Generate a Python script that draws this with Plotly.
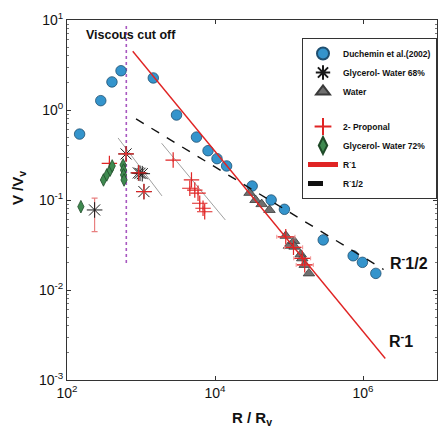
import numpy as np
import plotly.graph_objects as go

# ---- measured data (R/Rv, V/Vv) ----
duchemin_x = [148, 286, 405, 537, 1466, 3020, 5620, 8050, 10640, 14350, 31800, 57400, 86700,
              290000, 736000, 982000, 1490000]
duchemin_y = [0.54, 1.27, 2.05, 2.73, 2.27, 0.88, 0.50, 0.353, 0.288, 0.239, 0.143, 0.100, 0.0788,
              0.036, 0.024, 0.0203, 0.0153]

gly68_x = [236, 628, 920, 970, 1040, 1096]
gly68_y = [0.0775, 0.325, 0.200, 0.198, 0.196, 0.124]
gly68_err_up = [0.0275, None, None, None, None, None]
gly68_err_dn = [0.033, None, None, None, None, None]

water_x = [29300, 35300, 42700, 54500, 90400, 100000, 117000, 119000, 144000, 151000, 163000, 186000]
water_y = [0.120, 0.100, 0.090, 0.0775, 0.040, 0.031, 0.035, 0.0303, 0.0249, 0.0225, 0.019, 0.0153]

propanol_x = [374, 628, 930, 1096, 2720, 4810, 4570, 5330, 5900, 6220, 6890, 7260,
              90400, 115000, 151000, 163000]
propanol_y = [0.255, 0.325, 0.200, 0.124, 0.278, 0.167, 0.135, 0.129, 0.119, 0.092, 0.081, 0.074,
              0.039, 0.0298, 0.0225, 0.019]
propanol_xerr_up = [None] * 12 + [30000, 38000, 45000, 50000]
propanol_xerr_dn = [None] * 12 + [22000, 28000, 35000, 38000]

gly72_x = [154, 311, 345, 383, 408, 573, 581, 581, 590]
gly72_y = [0.0843, 0.167, 0.190, 0.215, 0.239, 0.245, 0.215, 0.190, 0.167]

# power-law guides: V/Vv = coef * (R/Rv)^slope
r1_coef, r1_slope, r1_span = 3470.0, -1.0, [773, 2.0e6]
rh_coef, rh_slope, rh_span = 23.3, -0.5, [857, 1.9e6]

# local fits through the low-R data sets
fit_a_x, fit_a_y = [490, 1920], [0.489, 0.111]
fit_b_x, fit_b_y = [1900, 13800], [0.427, 0.060]

# viscous cut-off position
cutoff_x = 633
cutoff_y = [0.02, 9.0]

# axis ticks
x_exps = [2, 4, 6]
y_exps = [1, 0, -1, -2, -3]

BLUE = "#3494cc"
GREEN = "#3f8a50"
GREY = "#6f6f6f"
RED = "#e02424"
DARK = "#1a1a1a"
TXT = "#111111"

fig = go.Figure()

# gray fit lines and cutoff (drawn first, behind markers)
fig.add_trace(go.Scatter(x=fit_a_x, y=fit_a_y, mode="lines", line=dict(color="#a0a0a0", width=1),
                         showlegend=False, hoverinfo="skip"))
fig.add_trace(go.Scatter(x=fit_b_x, y=fit_b_y, mode="lines", line=dict(color="#a0a0a0", width=1),
                         showlegend=False, hoverinfo="skip"))
fig.add_trace(go.Scatter(x=[cutoff_x, cutoff_x], y=cutoff_y, mode="lines",
                         line=dict(color="#a858c0", width=1.6, dash="dot"),
                         showlegend=False, hoverinfo="skip"))

fig.add_trace(go.Scatter(
    x=duchemin_x, y=duchemin_y, mode="markers", name="Duchemin et al.(2002)", legendgroup="a",
    marker=dict(symbol="circle", size=10.5, color=BLUE, line=dict(color="#1f4f70", width=0.8))))

fig.add_trace(go.Scatter(
    x=gly68_x, y=gly68_y, mode="markers", name="Glycerol- Water 68%", legendgroup="a",
    marker=dict(symbol="asterisk-open", size=13, color=DARK, line=dict(color=DARK, width=1)),
    error_y=dict(type="data", array=gly68_err_up, arrayminus=gly68_err_dn,
                 color="#e88080", thickness=1.2, width=3)))

fig.add_trace(go.Scatter(
    x=water_x, y=water_y, mode="markers", name="Water", legendgroup="a",
    marker=dict(symbol="triangle-up", size=10, color=GREY, line=dict(color="#3a3a3a", width=0.8))))

fig.add_trace(go.Scatter(
    x=propanol_x, y=propanol_y, mode="markers", name="2- Proponal", legendgroup="b",
    marker=dict(symbol="cross-thin-open", size=11, color=RED, line=dict(color=RED, width=1.2)),
    error_x=dict(type="data", array=propanol_xerr_up, arrayminus=propanol_xerr_dn,
                 color="#f09090", thickness=1, width=2)))

fig.add_trace(go.Scatter(
    x=gly72_x, y=gly72_y, mode="markers", name="Glycerol- Water 72%", legendgroup="b",
    marker=dict(symbol="diamond-tall", size=9, color=GREEN, line=dict(color="#1f4a28", width=0.8))))

r1_x = np.array(r1_span, dtype=float)
fig.add_trace(go.Scatter(x=r1_x, y=r1_coef * r1_x ** r1_slope, mode="lines", name="R<sup>-</sup>1",
                         legendgroup="b", line=dict(color=RED, width=1.4)))
rh_x = np.array(rh_span, dtype=float)
fig.add_trace(go.Scatter(x=rh_x, y=rh_coef * rh_x ** rh_slope, mode="lines", name="R<sup>-</sup>1/2",
                         legendgroup="b", line=dict(color="#111111", width=1.4, dash="dash")))

axis_common = dict(
    type="log", showgrid=False, zeroline=False, showline=True, linecolor="#333333", linewidth=1,
    mirror="allticks", ticks="inside", ticklen=4, tickcolor="#333333", tickmode="array",
    tickfont=dict(family="Arial", size=14, color=TXT), automargin=False,
)

fig.update_xaxes(
    range=[2, 7], tickvals=[10.0 ** e for e in x_exps],
    ticktext=[f"10<sup>{e}</sup>" for e in x_exps], **axis_common,
    title=dict(text="R / R<sub>v</sub>", font=dict(family="Arial", size=15, color=TXT,
                                                   weight="bold"), standoff=12))
fig.update_yaxes(
    range=[-3, 1], tickvals=[10.0 ** e for e in y_exps],
    ticktext=[f"10<sup>{e}</sup>" for e in y_exps], **axis_common,
    minor=dict(ticks="inside", ticklen=2, tickcolor="#777777", showgrid=False, tickmode="array",
               tickvals=[k * 10.0 ** e for e in range(-3, 1) for k in range(2, 10)]))

# y-axis title placed as a rotated annotation
fig.add_annotation(xref="paper", yref="paper", x=0, xshift=-49, y=0.533, text="V /V<sub>v</sub>",
                   textangle=-90, showarrow=False, xanchor="center", yanchor="middle",
                   font=dict(family="Arial", size=15, color=TXT, weight="bold"))

fig.add_annotation(x=np.log10(733), y=np.log10(6.8), text="Viscous cut off", showarrow=False,
                   font=dict(family="Arial", size=12.5, color=TXT, weight="bold"))
fig.add_annotation(xref="paper", x=0.868, xanchor="left", y=np.log10(0.0205),
                   text="R<sup>-</sup>1/2", showarrow=False,
                   font=dict(family="Arial", size=16, color=TXT, weight="bold"))
fig.add_annotation(xref="paper", x=0.865, xanchor="left", y=np.log10(0.0028),
                   text="R<sup>-</sup>1", showarrow=False,
                   font=dict(family="Arial", size=16, color=TXT, weight="bold"))

fig.update_layout(
    width=438, height=433,
    margin=dict(l=67, r=1, t=20, b=53, autoexpand=False),
    paper_bgcolor="white", plot_bgcolor="white",
    legend=dict(x=1.0, y=0.95, xanchor="right", yanchor="top",
                bgcolor="white", bordercolor="#333333", borderwidth=1,
                font=dict(family="Arial", size=8.5, color=TXT, weight="bold"),
                itemwidth=30, tracegroupgap=16, itemsizing="constant"),
)

fig.write_html("out.html")
